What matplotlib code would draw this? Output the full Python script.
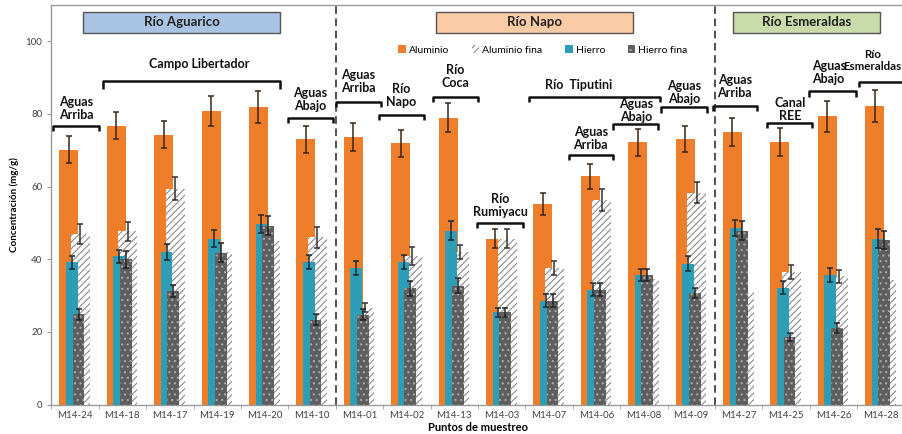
import matplotlib
matplotlib.use("Agg")
import matplotlib.pyplot as plt
from matplotlib.patches import Rectangle
import numpy as np

plt.rcParams['font.family'] = ['Lato', 'DejaVu Sans']
plt.rcParams['hatch.linewidth'] = 0.8

puntos = ["M14-24", "M14-18", "M14-17", "M14-19", "M14-20", "M14-10",
          "M14-01", "M14-02", "M14-13", "M14-03", "M14-07", "M14-06", "M14-08", "M14-09",
          "M14-27", "M14-25", "M14-26", "M14-28"]

aluminio = [70.2, 76.8, 74.3, 80.8, 81.9, 73.0,
            73.6, 71.9, 79.0, 45.7, 55.2, 62.8, 72.2, 73.0,
            75.0, 72.2, 79.4, 82.2]
aluminio_err = [3.6, 3.8, 3.8, 4.2, 4.3, 3.7,
                3.8, 3.8, 3.9, 2.7, 3.0, 3.4, 3.7, 3.6,
                3.9, 3.8, 4.3, 4.3]

aluminio_fina = [47.0, 47.7, 59.4, 42.0, 44.9, 46.0,
                 26.7, 40.8, 42.0, 45.7, 37.6, 56.4, 34.5, 58.3,
                 31.1, 36.5, 35.3, 34.3]
aluminio_fina_err = [2.7, 2.6, 3.2, np.nan, np.nan, 2.8,
                     1.3, 2.5, 2.0, 2.5, 2.0, 3.0, np.nan, 2.9,
                     np.nan, 2.0, 1.8, np.nan]

hierro = [39.1, 40.8, 42.0, 45.7, 49.7, 39.3,
          37.6, 39.2, 47.9, 25.4, 28.6, 31.6, 35.7, 38.8,
          48.6, 32.2, 35.7, 45.7]
hierro_err = [1.9, 1.8, 2.2, 2.4, 2.4, 1.9,
              2.0, 2.0, 2.7, 1.3, 1.8, 1.8, 1.7, 2.0,
              2.3, 1.9, 2.0, 2.6]

hierro_fina = [24.9, 40.0, 31.3, 41.8, 49.2, 23.3,
               24.7, 32.0, 32.7, 25.4, 28.6, 31.6, 35.7, 30.7,
               47.9, 18.7, 21.0, 45.4]
hierro_fina_err = [1.5, 2.4, 1.6, 2.6, 2.6, 1.5,
                   1.5, 2.0, 2.1, 1.3, 1.8, 1.8, 1.7, 1.5,
                   2.5, 1.1, 1.4, 2.5]

# (texto, desde, hasta, altura bracket, x texto, altura texto, alineación)
subgrupos = [
    ("Aguas\nArriba", -0.46, 0.50, 76.6, 0.02, 81.4, "center"),
    ("Campo Libertador", 0.60, 4.33, 89.0, 2.62, 93.7, "center"),
    ("Aguas\nAbajo", 4.49, 5.44, 79.0, 4.97, 84.1, "center"),
    ("Aguas\nArriba", 5.50, 6.46, 83.2, 5.98, 88.8, "center"),
    ("Río\nNapo", 6.42, 7.36, 79.6, 6.89, 85.2, "center"),
    ("Río\nCoca", 7.55, 8.50, 84.6, 8.02, 90.2, "center"),
    ("Río\nRumiyacu", 8.48, 9.45, 50.1, 8.97, 54.9, "center"),
    ("Río  Tiputini", 9.58, 12.34, 84.8, 10.62, 88.1, "center"),
    ("Aguas\nArriba", 10.42, 11.35, 68.6, 10.88, 73.2, "center"),
    ("Aguas\nAbajo", 11.36, 12.30, 77.1, 11.83, 81.0, "center"),
    ("Aguas\nAbajo", 12.37, 13.33, 81.8, 12.85, 85.9, "center"),
    ("Aguas\nArriba", 13.46, 14.39, 82.1, 13.92, 87.6, "center"),
    ("Canal\nREE", 14.60, 15.55, 77.4, 15.08, 81.2, "center"),
    ("Aguas\nAbajo", 15.49, 16.48, 86.2, 15.90, 91.4, "center"),
    ("Río\nEsmeraldas", 16.54, 17.48, 88.7, 17.44, 94.8, "right"),
]

# (nombre, x0 px, x1 px, color)
rios = [("Río Aguarico", 83, 280, "#A9C4E2"),
        ("Río Napo", 436, 633, "#FBCBA6"),
        ("Río Esmeraldas", 733, 880, "#C9DBA9")]

W, H = 903, 434
fig = plt.figure(figsize=(W / 100, H / 100), dpi=100)
ax = fig.add_axes([51.3 / W, 29.5 / H, 853.2 / W, 399.5 / H])

x = np.arange(len(puntos))
naranja = "#EF7E2A"
turquesa = "#2E9DB6"
gris = "#5E5E5E"

b1 = ax.bar(x - 0.13, aluminio, 0.40, color=naranja, label="Aluminio", zorder=2)
b2 = ax.bar(x + 0.116, aluminio_fina, 0.40, facecolor="white", edgecolor="#8a8a8a",
            hatch="/////", linewidth=0, label="Aluminio fina", zorder=3)
b3 = ax.bar(x - 0.068, hierro, 0.247, color=turquesa, label="Hierro", zorder=4)
b4 = ax.bar(x + 0.074, hierro_fina, 0.247, facecolor=gris, edgecolor="#a9a9a9",
            hatch="...", linewidth=0, label="Hierro fina", zorder=5)

ekw = dict(fmt="none", capsize=2.5, elinewidth=1.1, capthick=1.1)
ax.errorbar(x - 0.13, aluminio, yerr=aluminio_err, ecolor="#3a2418", zorder=6, **ekw)
ax.errorbar(x + 0.116, aluminio_fina, yerr=aluminio_fina_err, ecolor="#333333", zorder=6, **ekw)
ax.errorbar(x - 0.068, hierro, yerr=hierro_err, ecolor="#1d2a33", zorder=7, **ekw)
ax.errorbar(x + 0.074, hierro_fina, yerr=hierro_fina_err, ecolor="#222222", zorder=7, **ekw)

ax.set_xlim(-0.5, len(puntos) - 0.5)
ax.set_ylim(0, 110)
ax.set_yticks(np.arange(0, 101, 20))
ax.set_xticks(x)
ax.set_xticklabels(puntos)
ax.set_xticks(np.arange(-0.5, len(puntos), 1), minor=True)
ax.tick_params(axis="x", which="major", length=0, labelsize=7, colors="#404040", pad=5)
ax.tick_params(axis="x", which="minor", length=3, color="#999999")
ax.tick_params(axis="y", length=3, color="#999999", labelsize=7, labelcolor="#404040")

for s in ["left", "bottom", "top"]:
    ax.spines[s].set_color("#9a9a9a")
    ax.spines[s].set_linewidth(1)
ax.spines["right"].set_visible(False)

ax.set_xlabel("Puntos de muestreo", fontsize=8, fontweight="bold", labelpad=1)
ax.set_ylabel("Concentración (mg/g)", fontsize=7, fontweight="bold", labelpad=5)

# divisiones entre ríos
for xd in [5.5, 13.5]:
    ax.axvline(xd, color="#222222", linestyle=(0, (5, 3)), linewidth=1.1, zorder=1)

for texto, x0, x1, yb, xt, yt, al in subgrupos:
    d = 2.2 if texto == "Campo Libertador" else 1.4
    fs = 8.3 if al == "right" else 9
    ax.plot([x0, x0, x1, x1], [yb - d, yb, yb, yb - d], color="#111111",
            linewidth=1.8, solid_capstyle="butt", clip_on=False, zorder=8)
    ax.text(xt, yt, texto, ha=al, va="center", fontsize=fs, multialignment="center",
            fontweight="bold", linespacing=1.1, color="#111111", clip_on=False, zorder=8)

for nombre, px0, px1, col in rios:
    fig.patches.append(Rectangle((px0 / W, 1 - 33 / H), (px1 - px0) / W, 21 / H,
                                 transform=fig.transFigure, facecolor=col,
                                 edgecolor="#555555", linewidth=1))
    fig.text((px0 + px1) / 2 / W, 1 - 22.5 / H, nombre, ha="center", va="center",
             fontsize=9.5, fontweight="bold", color="#222222")

fig.legend(handles=[b1, b2, b3, b4], loc="center", bbox_to_anchor=(543 / W, 1 - 50 / H),
           ncol=4, frameon=False, fontsize=7.5, handlelength=0.7, handleheight=0.7,
           handletextpad=0.3, columnspacing=2.2)

fig.savefig("out.png", dpi=100)
